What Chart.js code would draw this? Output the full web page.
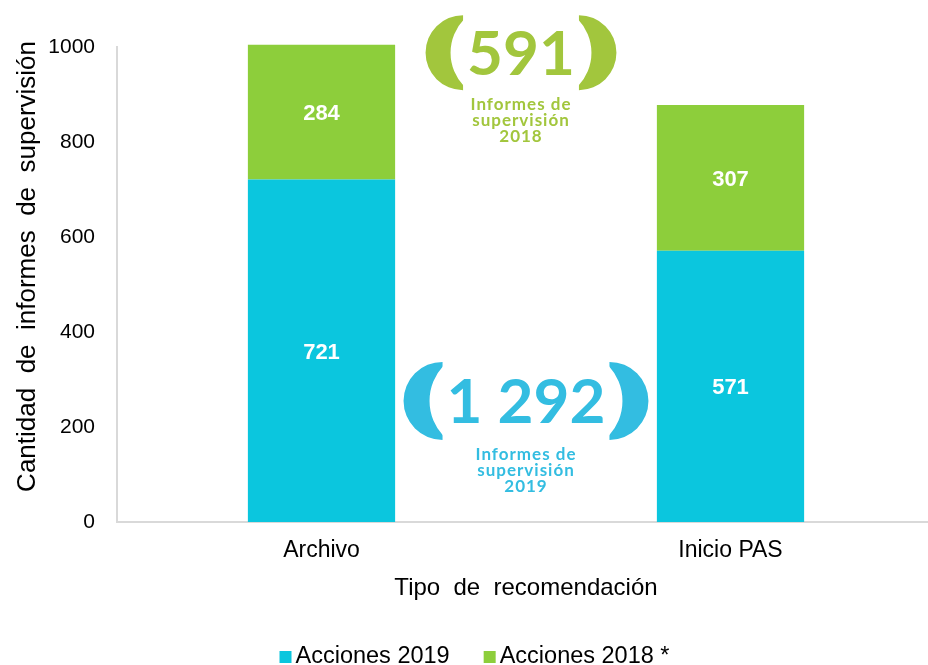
<!DOCTYPE html>
<html><head><meta charset="utf-8">
<script src="https://cdn.jsdelivr.net/npm/chart.js@4"></script>
<style>html,body{margin:0;padding:0;background:#fff;overflow:hidden}
#wrap{width:935px;height:665px;position:relative}</style>
</head><body><div id="wrap"><canvas id="c" width="935" height="665"></canvas></div>
<script>
// ---- data ----
const categories = ['Archivo', 'Inicio PAS'];
const acciones2019 = [721, 571];
const acciones2018 = [284, 307];
const seriesNames = ['Acciones 2019', 'Acciones 2018 *'];
const yTicks = [0, 200, 400, 600, 800, 1000];
const yTickLabels = ['0', '200', '400', '600', '800', '1000'];
const subtitle2018 = ['Informes de', 'supervisión', '2018'];
const subtitle2019 = ['Informes de', 'supervisión', '2019'];

// ---- style ----
const FONT = "'Liberation Sans', Arial, sans-serif";
const BLUE = '#0BC6DE', GREEN = '#8DCE3B';
const ANN_GREEN = '#A2C63D', ANN_BLUE = '#33BDE1';
const AXIS = '#D9D9D9';

const sum = a => a.reduce((s, v) => s + v, 0);
const fmt = n => String(n).replace(/\B(?=(\d{3})+(?!\d))/g, ' ');
const annotations = [
  { total: fmt(sum(acciones2018)), sub: subtitle2018, color: ANN_GREEN, at: 988, dx: -5, h: 75 },
  { total: fmt(sum(acciones2019)), sub: subtitle2019, color: ANN_BLUE, at: 255, dx: 0, h: 78 }
];

const segLabels = {
  id: 'segLabels',
  afterDatasetsDraw(chart) {
    const ctx = chart.ctx;
    ctx.save();
    ctx.font = 'bold 22px ' + FONT;
    ctx.fillStyle = '#fff';
    ctx.textAlign = 'center';
    ctx.textBaseline = 'middle';
    chart.data.datasets.forEach((ds, i) => {
      chart.getDatasetMeta(i).data.forEach((el, j) => {
        ctx.fillText(String(ds.data[j]), el.x, (el.y + el.base) / 2 + 2);
      });
    });
    ctx.restore();
  }
};

function bracket(ctx, tip, cy, h, dir, color) {
  const r = h / 2, t = h / 3, y0 = h / 2 - 5;
  const d = r - t;
  const R2 = (d * d + y0 * y0) / (2 * d);
  const c2 = tip - dir * (d - R2);
  ctx.save();
  ctx.beginPath();
  if (dir > 0) ctx.rect(tip - h, cy - h, h, 2 * h); else ctx.rect(tip, cy - h, h, 2 * h);
  ctx.clip();
  ctx.beginPath();
  ctx.arc(tip, cy, r, 0, Math.PI * 2);
  ctx.moveTo(c2 + R2, cy);
  ctx.arc(c2, cy, R2, 0, Math.PI * 2);
  ctx.fillStyle = color;
  ctx.fill('evenodd');
  ctx.restore();
}

const totalsPlugin = {
  id: 'totals',
  afterDraw(chart) {
    const ctx = chart.ctx;
    const xs = chart.scales.x, ys = chart.scales.y;
    const cxBase = (xs.getPixelForValue(0) + xs.getPixelForValue(1)) / 2;
    annotations.forEach(a => {
      const cx = cxBase + a.dx, cy = ys.getPixelForValue(a.at);
      ctx.save();
      ctx.font = 'bold 62px Lato';
      ctx.fillStyle = a.color;
      ctx.textAlign = 'center';
      ctx.textBaseline = 'alphabetic';
      const w = ctx.measureText(a.total).width;
      ctx.fillText(a.total, cx, cy + 22);
      const gap = w + 8;
      bracket(ctx, cx - gap / 2, cy, a.h, 1, a.color);
      bracket(ctx, cx + gap / 2, cy, a.h, -1, a.color);
      ctx.font = 'bold 17px Lato';
      try { ctx.letterSpacing = '1px'; } catch (e) {}
      a.sub.forEach((line, k) => {
        ctx.fillText(line, cx, cy + a.h / 2 + 20 + k * 16);
      });
      ctx.restore();
    });
  }
};

const legendPlugin = {
  id: 'customLegend',
  afterDraw(chart) {
    const ctx = chart.ctx;
    ctx.save();
    ctx.font = '23.5px ' + FONT;
    const items = chart.data.datasets.map(ds => ({ text: ds.label, color: ds.backgroundColor, w: ctx.measureText(ds.label).width }));
    const box = 12, g = 4, itemGap = 34;
    const total = items.reduce((s, it) => s + box + g + it.w, 0) + itemGap * (items.length - 1);
    let x = chart.width / 2 + 7 - total / 2;
    const baseY = 663;
    ctx.textBaseline = 'alphabetic';
    ctx.textAlign = 'left';
    items.forEach(it => {
      ctx.fillStyle = it.color;
      ctx.fillRect(x, baseY - 12, box, box);
      ctx.fillStyle = '#000';
      ctx.fillText(it.text, x + box + g, baseY);
      x += box + g + it.w + itemGap;
    });
    ctx.restore();
  }
};

new Chart(document.getElementById('c'), {
  type: 'bar',
  data: {
    labels: categories,
    datasets: [
      { label: seriesNames[0], data: acciones2019, backgroundColor: BLUE, stack: 's', clip: false },
      { label: seriesNames[1], data: acciones2018, backgroundColor: GREEN, stack: 's', clip: false }
    ]
  },
  options: {
    responsive: false,
    devicePixelRatio: 1,
    animation: false,
    categoryPercentage: 1,
    barPercentage: 0.36,
    layout: { padding: { top: 47, left: 0, right: 0, bottom: 0 } },
    plugins: { legend: { display: false }, tooltip: { enabled: false } },
    scales: {
      x: {
        stacked: true,
        grid: { display: false, drawTicks: false },
        border: { display: true, color: AXIS, width: 2 },
        ticks: { color: '#000', font: { family: FONT, size: 23 }, padding: 15 },
        title: { display: true, text: 'Tipo  de  recomendación', color: '#000', font: { family: FONT, size: 24 }, padding: { top: 0, bottom: 62 } },
        afterFit: s => { s.height = 143; }
      },
      y: {
        stacked: true,
        min: 0, max: 1000,
        afterBuildTicks: s => { s.ticks = yTicks.map(v => ({ value: v })); },
        grid: { display: false, drawTicks: false },
        border: { display: true, color: AXIS, width: 2 },
        ticks: {
          color: '#000', font: { family: FONT, size: 21 }, padding: 22,
          callback: (v) => { const i = yTicks.indexOf(v); return i >= 0 ? yTickLabels[i] : ''; }
        },
        title: { display: true, text: '     Cantidad  de  informes  de  supervisión', color: '#000', font: { family: FONT, size: 26 }, padding: { top: 12, bottom: 0 } },
        afterFit: s => { s.width = 117; }
      }
    }
  },
  plugins: [segLabels, totalsPlugin, legendPlugin]
});
</script>
</body></html>
